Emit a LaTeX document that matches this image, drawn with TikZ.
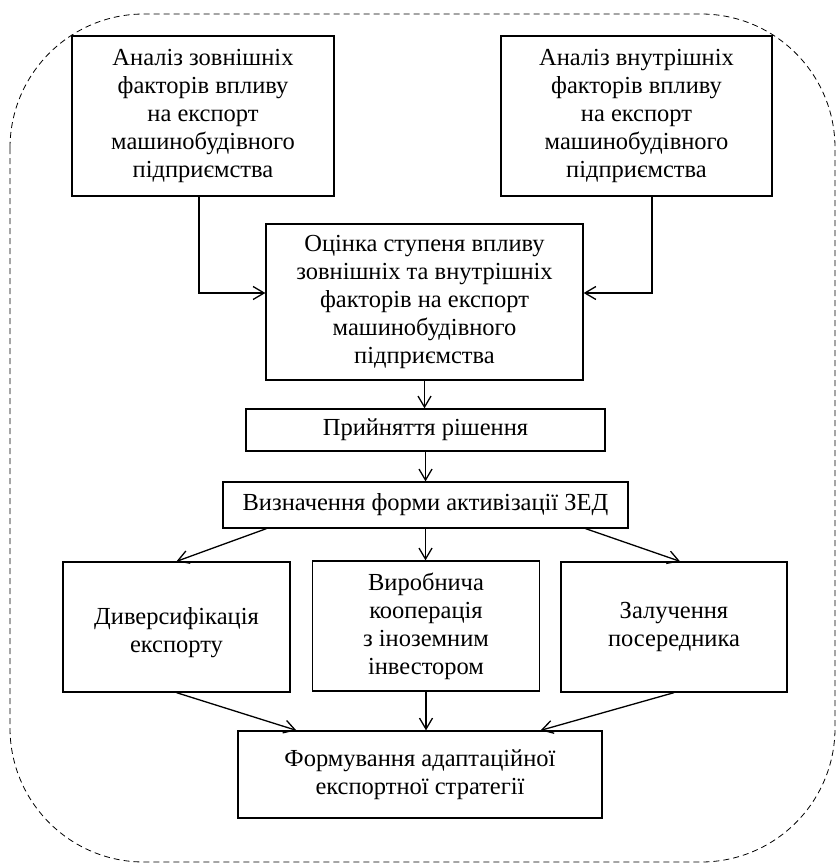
\documentclass[tikz,border=0pt]{standalone}
\usepackage{fontspec}
\setmainfont{Liberation Serif}
\usepackage{tikz}
\usetikzlibrary{arrows.meta}

\begin{document}
\begin{tikzpicture}[x=1pt, y=-1pt, >={Straight Barb[length=11pt,width=13pt]},
    box/.style={draw, line width=1.3pt, align=center, inner sep=2pt,
      font=\fontsize{24.5}{28}\selectfont},
    link/.style={->, line width=1.3pt}]
  \useasboundingbox (0,0) rectangle (838,864);

  % --- dashed frame ---
  \draw[dash pattern=on 6pt off 4pt, line width=0.8pt, rounded corners=134pt] (10,14) rectangle (835,862);

  % --- factor analysis ---
  \node[box, minimum width=262pt, minimum height=160pt] (ext) at (203,116)
    {Аналіз зовнішніх\\факторів впливу\\на експорт\\машинобудівного\\підприємства};
  \node[box, minimum width=271pt, minimum height=160pt] (int) at (636.5,116)
    {Аналіз внутрішніх\\факторів впливу\\на експорт\\машинобудівного\\підприємства};

  % --- evaluation and decision ---
  \node[box, minimum width=317pt, minimum height=156pt] (eval) at (424.5,302)
    {Оцінка ступеня впливу\\зовнішніх та внутрішніх\\факторів на експорт\\машинобудівного\\підприємства};
  \node[box, minimum width=359pt, minimum height=42pt] (dec) at (425.5,430) {Прийняття рішення};
  \node[box, minimum width=405pt, minimum height=46pt] (form) at (425.5,505) {Визначення форми активізації ЗЕД};

  % --- forms of activation ---
  \node[box, minimum width=227pt, minimum height=130pt] (div) at (176.5,627)
    {\mbox{}\\Диверсифікація\\експорту};
  \node[box, minimum width=227pt, minimum height=130pt] (coop) at (426,626)
    {Виробнича\\кооперація\\з іноземним\\інвестором};
  \node[box, minimum width=226pt, minimum height=130pt] (med) at (674,627)
    {Залучення\\посередника};

  % --- strategy ---
  \node[box, minimum width=364pt, minimum height=87pt] (strat) at (420,774.5)
    {Формування адаптаційної\\експортної стратегії};

  % --- connectors ---
  \coordinate (turnL) at (199,293);
  \coordinate (turnR) at (652,293);
  \draw[link] (ext.south -| turnL) -- (turnL) -- (turnL -| eval.west);
  \draw[link] (int.south -| turnR) -- (turnR) -- (turnR -| eval.east);
  \draw[link] (eval.south) -- (eval.south |- dec.north);
  \draw[link] (dec.south) -- (dec.south |- form.north);

  \draw[link] ([xshift=44pt]form.south west) -- (div.north);
  \draw[link] (form.south) -- (form.south |- coop.north);
  \draw[link] ([xshift=-43pt]form.south east) -- ([xshift=6pt]med.north);

  \draw[link] (div.south) -- ([xshift=59pt]strat.north west);
  \draw[link] (coop.south) -- (coop.south |- strat.north);
  \draw[link] (med.south) -- ([xshift=-62pt]strat.north east);
\end{tikzpicture}
\end{document}
